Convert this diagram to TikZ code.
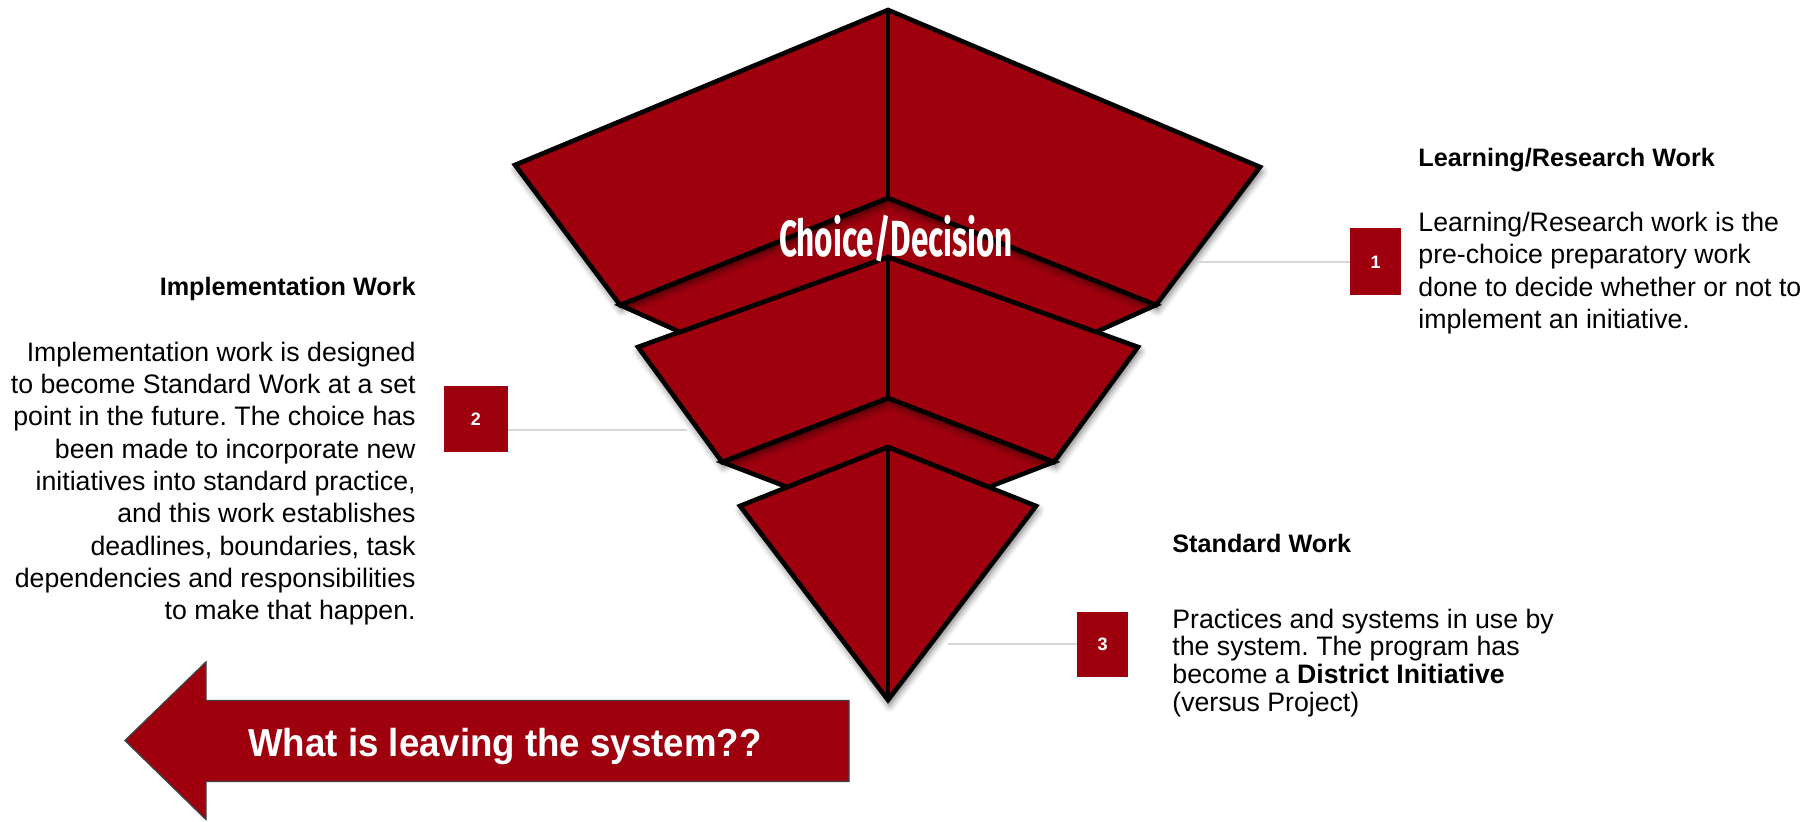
\documentclass[tikz,border=0pt]{standalone}
\usepackage{graphicx}
\usepackage{fontspec}
\setmainfont{Liberation Sans}
\newfontfamily\condfont{Fira Sans}
\usetikzlibrary{shadows.blur}
\definecolor{pyr}{RGB}{158,0,14}
\definecolor{conn}{RGB}{215,215,215}
\frenchspacing
\begin{document}
\begin{tikzpicture}[x=0.5pt,y=-0.5pt,
  face/.style={fill=pyr, draw=black, line width=2.3pt, line join=miter},
  shad/.style={blur shadow={shadow xshift=0.8pt, shadow yshift=-2.4pt, shadow blur radius=3.5pt, shadow opacity=60}},
  edge/.style={draw=black, line width=2.3pt},
  connline/.style={draw=conn, line width=1pt},
  numbox/.style={fill=pyr, draw=none, text=white, inner sep=0pt, font=\bfseries\fontsize{9}{11}\selectfont},
  ttl/.style={inner sep=0pt, font=\bfseries\fontsize{12.6}{15}\selectfont},
  body/.style={inner sep=0pt, font=\fontsize{13.35}{16.15}\selectfont},
  bodyb/.style={inner sep=0pt, font=\fontsize{13.35}{13.8}\selectfont},
  arrowsty/.style={fill=pyr, draw=black!75, line width=0.7pt, line join=miter}
]
\useasboundingbox (0,0) rectangle (1812,822);
% coordinates
\coordinate (A1) at (888,10);
\coordinate (L1) at (515,165);
\coordinate (BL1) at (620,305);
\coordinate (V1) at (888,198);
\coordinate (BR1) at (1156,305);
\coordinate (R1) at (1260,167);
\coordinate (P1l) at (680,332);
\coordinate (P1r) at (1096,332);
\coordinate (T2) at (888,257);
\coordinate (L2) at (638,347);
\coordinate (BL2) at (722,462);
\coordinate (V2) at (888,398);
\coordinate (BR2) at (1054,462);
\coordinate (R2) at (1138,347);
\coordinate (P2l) at (787,487);
\coordinate (P2r) at (989,487);
\coordinate (T3) at (888,447);
\coordinate (L3) at (740,506);
\coordinate (B3) at (888,700);
\coordinate (R3) at (1036,506);
% layer 3
\path[face, shad] (T3) -- (L3) -- (B3) -- (R3) -- cycle;
\draw[edge] (T3) -- (B3);
% band 2
\path[face] (BL2) -- (V2) -- (BR2) -- (P2r) -- (T3) -- (P2l) -- cycle;
% layer 2
\path[face, shad] (T2) -- (L2) -- (BL2) -- (V2) -- (BR2) -- (R2) -- cycle;
\draw[edge] (T2) -- (V2);
% band 1
\path[face] (BL1) -- (V1) -- (BR1) -- (P1r) -- (T2) -- (P1l) -- cycle;
% layer 1
\path[face, shad] (A1) -- (L1) -- (BL1) -- (V1) -- (BR1) -- (R1) -- cycle;
\draw[edge] (A1) -- (V1);
% label on pyramid
\node[anchor=base, text=white, inner sep=0pt] (cd) at (896,256.7)
  {\scalebox{0.62}[1]{\condfont\bfseries\fontsize{25.4}{30}\selectfont Choice/Decision}};
% number boxes
\node[numbox, minimum width=25.5pt, minimum height=33.5pt] (b1) at (1375.5,262) {1};
\node[numbox, minimum width=32pt, minimum height=33pt] (b2) at (476,419) {2};
\node[numbox, minimum width=25.5pt, minimum height=32.5pt] (b3) at (1102.5,644.5) {3};
% connectors
\coordinate (c1) at (1196,262);
\coordinate (c2) at (687,430);
\coordinate (c3) at (948,644.5);
\draw[connline] (c1) -- (b1.west);
\draw[connline] (b2.east |- c2) -- (c2);
\draw[connline] (c3) -- (b3.west);
% right block
\node[ttl, anchor=base west] (t1) at (1418,166.7) {Learning/Research Work};
\node[body, anchor=base west, align=left] (d1) at (1418,328.6)
  {Learning/Research work is the\\pre-choice preparatory work\\done to decide whether or not to\\implement an initiative.};
% left block
\node[ttl, anchor=base east] (t2) at (416,295.5) {Implementation Work};
\node[body, anchor=base east, align=right] (d2) at (416,619.8)
  {Implementation work is designed\\to become Standard Work at a set\\point in the future. The choice has\\been made to incorporate new\\initiatives into standard practice,\\and this work establishes\\deadlines, boundaries, task\\dependencies and responsibilities\\to make that happen.};
% bottom block
\node[ttl, anchor=base west] (t3) at (1172,552.7) {Standard Work};
\node[bodyb, anchor=base west, align=left] (d3) at (1172,711.1)
  {Practices and systems in use by\\the system. The program has\\become a \textbf{District Initiative}\\(versus Project)};
% arrow
\path[arrowsty] (125,740.5) -- (206,662) -- (206,700.5) -- (849,700.5) -- (849,781.5) -- (206,781.5) -- (206,819.5) -- cycle;
\node[anchor=base, text=white, inner sep=0pt] (aq) at (505,757)
  {\scalebox{0.94}[1]{\bfseries\fontsize{19.5}{24}\selectfont What is leaving the system??}};
\end{tikzpicture}
\end{document}
